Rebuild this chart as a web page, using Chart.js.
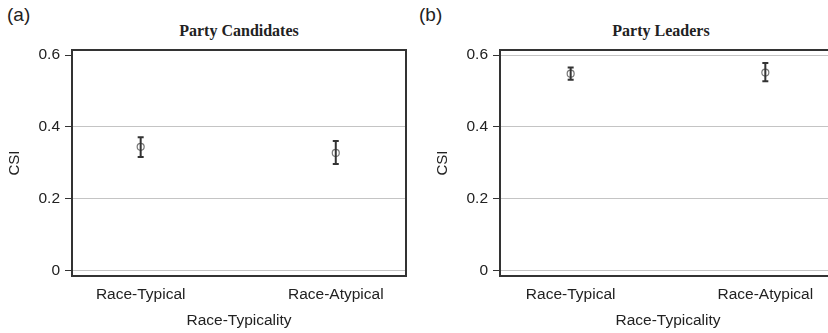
<!DOCTYPE html>
<html>
<head>
<meta charset="utf-8">
<script src="https://cdn.jsdelivr.net/npm/chart.js@4"></script>
<style>
  html, body { margin: 0; padding: 0; background: #fff; overflow: hidden; }
  body { width: 828px; height: 333px; position: relative; font-family: "Liberation Sans", Arial, sans-serif; }
  .panel { position: absolute; top: 0; height: 333px; }
  .tag { position: absolute; top: 4px; font-size: 19px; color: #222; }
  .title { position: absolute; top: 22px; font-family: "Liberation Serif", "Times New Roman", serif; font-weight: bold; font-size: 16px; color: #222; transform: translateX(-50%); white-space: nowrap; }
</style>
</head>
<body>
<div class="tag" style="left:7px;">(a)</div>
<div class="tag" style="left:419px;">(b)</div>
<div class="title" style="left:239px;">Party Candidates</div>
<div class="title" style="left:661px;">Party Leaders</div>
<div class="panel" style="left:0;width:414px;"><canvas id="chartA"></canvas></div>
<div class="panel" style="left:428px;width:416px;"><canvas id="chartB"></canvas></div>
<script>
// categories and y ticks
const categories = ["Race-Typical", "Race-Atypical"];
const yTicks = [0, 0.2, 0.4, 0.6];

// Party Candidates (a)
const candMean = [0.344, 0.327];
const candLow = [0.316, 0.296];
const candHigh = [0.371, 0.360];

// Party Leaders (b)
const leadMean = [0.548, 0.551];
const leadLow = [0.531, 0.527];
const leadHigh = [0.565, 0.578];

// draws the frame box and the error bars
const errorBars = {
  id: "errorBars",
  afterDatasetsDraw(chart, args, opts) {
    const ctx = chart.ctx;
    const xs = chart.scales.x;
    const ys = chart.scales.y;
    ctx.save();
    ctx.strokeStyle = "#333";
    ctx.lineWidth = 2;
    opts.low.forEach((lo, i) => {
      const x = xs.getPixelForValue(i);
      const y1 = ys.getPixelForValue(lo);
      const y2 = ys.getPixelForValue(opts.high[i]);
      ctx.beginPath();
      ctx.moveTo(x, y1);
      ctx.lineTo(x, y2);
      ctx.moveTo(x - 3, y1);
      ctx.lineTo(x + 3, y1);
      ctx.moveTo(x - 3, y2);
      ctx.lineTo(x + 3, y2);
      ctx.stroke();
    });
    ctx.restore();
  },
  afterDraw(chart) {
    const a = chart.chartArea;
    const ctx = chart.ctx;
    ctx.save();
    ctx.strokeStyle = "#333";
    ctx.lineWidth = 2;
    ctx.strokeRect(a.left, a.top, a.right - a.left, a.bottom - a.top);
    ctx.restore();
  }
};

function makeChart(id, means, low, high, xMin, xMax, hideTop) {
  return new Chart(document.getElementById(id), {
    type: "scatter",
    data: {
      datasets: [
        {
          data: means.map((m, i) => ({ x: i, y: m })),
          pointStyle: "circle",
          pointRadius: 3.5,
          pointBorderWidth: 1.2,
          borderColor: "#777",
          backgroundColor: "rgba(0,0,0,0)",
        },
      ],
    },
    options: {
      responsive: true,
      maintainAspectRatio: false,
      animation: false,
      layout: { padding: { top: 50, right: 8, left: 0, bottom: 0 } },
      plugins: {
        legend: { display: false },
        tooltip: { enabled: false },
        errorBars: { low: low, high: high },
      },
      scales: {
        x: {
          type: "linear",
          min: xMin,
          max: xMax,
          afterBuildTicks: (s) => { s.ticks = categories.map((c, i) => ({ value: i })); },
          afterFit: (s) => { s.height = 57; },
          grid: { display: false },
          border: { display: false },
          ticks: {
            padding: 1,
            color: "#222",
            font: { family: "Liberation Sans", size: 15.5 },
            callback: (v) => categories[v],
          },
          title: {
            display: true,
            text: "Race-Typicality",
            color: "#222",
            font: { family: "Liberation Sans", size: 15.5 },
            padding: { bottom: 3 },
          },
        },
        y: {
          min: -0.016,
          max: 0.614,
          afterBuildTicks: (s) => { s.ticks = yTicks.map((v) => ({ value: v })); },
          afterFit: (s) => { s.width = 72; },
          border: { display: false },
          grid: {
            color: (c) => (hideTop && c.tick && c.tick.value === 0.6 ? "rgba(0,0,0,0)" : "#c4c4c4"),
            tickColor: "#333",
            tickLength: 7,
            lineWidth: 1,
          },
          ticks: {
            padding: 5,
            color: "#222",
            font: { family: "Liberation Sans", size: 15.5 },
            callback: (v) => String(v),
          },
          title: {
            display: true,
            text: "CSI",
            color: "#222",
            font: { family: "Liberation Sans", size: 15 },
            padding: { top: 6 },
          },
        },
      },
    },
    plugins: [errorBars],
  });
}

makeChart("chartA", candMean, candLow, candHigh, -0.352, 1.36, true);
makeChart("chartB", leadMean, leadLow, leadHigh, -0.363, 1.363, false);
</script>
</body>
</html>
